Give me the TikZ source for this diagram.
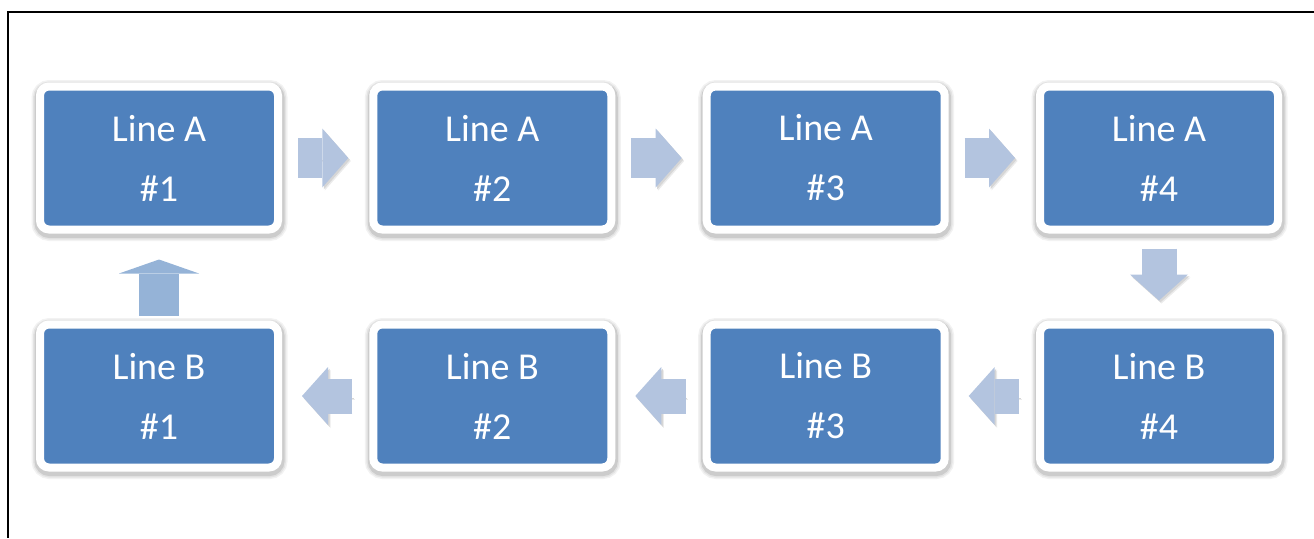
\documentclass[tikz,border=0pt]{standalone}
\usepackage{fontspec}
\setmainfont{Carlito}
\usetikzlibrary{arrows.meta,shadows}
\definecolor{boxblue}{HTML}{4F81BD}
\definecolor{arrowc}{HTML}{B3C4DF}
\definecolor{uparrowc}{HTML}{95B3D7}
\begin{document}
\begin{tikzpicture}[x=1pt,y=-1pt,
  stage/.style={draw=white, line width=8pt, fill=boxblue, rounded corners=9pt,
    minimum width=238pt, minimum height=143pt, inner sep=0pt,
    text=white, align=center, font=\fontsize{38}{60}\selectfont,
    general shadow={shadow xshift=0.5pt, shadow yshift=-2.5pt, fill=none, draw=black!5, line width=18pt},
    general shadow={shadow xshift=0.5pt, shadow yshift=-2.5pt, fill=none, draw=black!11, line width=15pt},
    general shadow={shadow xshift=0.5pt, shadow yshift=-2.5pt, fill=none, draw=black!20, line width=12pt}},
  flowshadow/.style={
    preaction={draw=black!8, transform canvas={shift={(2.5pt,-3pt)}}},
    preaction={draw=black!16, transform canvas={shift={(1.5pt,-1.8pt)}}}},
  flowA/.style={draw=arrowc, line width=40pt, flowshadow,
    -{Triangle[length=26pt, width=59pt, line width=0pt]}},
  flowB/.style={draw=arrowc, line width=35pt, flowshadow,
    -{Triangle[length=26pt, width=58pt, line width=0pt]}},
  flowup/.style={draw=uparrowc, line width=40pt,
    -{Triangle[length=14pt, width=80pt, line width=0pt]}},
]
\useasboundingbox (0,0) rectangle (1314,538);
\draw[line width=2pt] (1314,12) -- (8,12) -- (8,538);

\node[stage] (A1) at (159,158)    {Line A\\\#1};
\node[stage] (A2) at (492.3,158)  {Line A\\\#2};
\node[stage] (A3) at (825.7,158)  {Line A\\\#3};
\node[stage] (A4) at (1159,158)   {Line A\\\#4};
\node[stage] (B1) at (159,396)    {Line B\\\#1};
\node[stage] (B2) at (492.3,396)  {Line B\\\#2};
\node[stage] (B3) at (825.7,396)  {Line B\\\#3};
\node[stage] (B4) at (1159,396)   {Line B\\\#4};

\draw[flowA, shorten <=16pt, shorten >=21pt] (A1) -- (A2);
\draw[flowA, shorten <=16pt, shorten >=21pt] (A2) -- (A3);
\draw[flowA, shorten <=16pt, shorten >=21pt] (A3) -- (A4);
\draw[flowB, shorten <=15pt, shorten >=20pt] (A4) -- (B4);
\draw[flowB, shorten <=17pt, shorten >=20pt] (B4) -- (B3);
\draw[flowB, shorten <=17pt, shorten >=20pt] (B3) -- (B2);
\draw[flowB, shorten <=17pt, shorten >=20pt] (B2) -- (B1);
\draw[flowup, shorten <=5pt, shorten >=26pt] (B1) -- (A1);
\end{tikzpicture}
\end{document}
